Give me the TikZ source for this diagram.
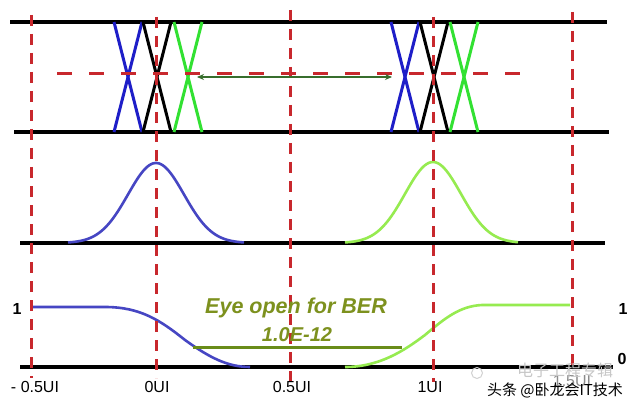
\documentclass[tikz,border=0pt]{standalone}
\usepackage{fontspec}
\setmainfont{Liberation Sans}
\newfontfamily\cjk{Noto Sans CJK SC}
\usetikzlibrary{arrows.meta}
\definecolor{rd}{RGB}{200,40,45}
\definecolor{xblue}{RGB}{30,30,200}
\definecolor{xgreen}{RGB}{50,225,50}
\definecolor{cblue}{RGB}{70,70,195}
\definecolor{cgreen}{RGB}{150,235,80}
\definecolor{agreen}{RGB}{55,110,45}
\definecolor{olive}{RGB}{105,140,25}
\definecolor{otext}{RGB}{125,145,30}
\tikzset{
  rail/.style={line width=3.4pt,black},
  vdash/.style={line width=3pt,rd,dash pattern=on 11pt off 8pt},
  hdash/.style={line width=3pt,rd,dash pattern=on 15pt off 17pt},
  xline/.style={line width=3pt},
  curve/.style={line width=2.6pt},
  lbl/.style={font=\fontsize{16}{18}\selectfont,inner sep=0pt},
  lvl/.style={font=\fontsize{16}{18}\selectfont\bfseries,inner sep=0pt},
}
\begin{document}
\begin{tikzpicture}[x=1pt,y=-1pt]
\useasboundingbox[fill=white] (0,0) rectangle (640,409);
% rails
\draw[rail] (10,22) -- (607,22);
\draw[rail] (14,132) -- (609,132);
\draw[rail] (20,243) -- (605,243);
\draw[rail] (20,367) -- (613,367);
% crossings
\foreach \c/\col in {127/xblue,156/black,187/xgreen,404/xblue,433/black,463/xgreen}{
  \draw[xline,\col] (\c-13,22) -- (\c+15,132);
  \draw[xline,\col] (\c+15,22) -- (\c-13,132);
}
% gaussians
\draw[curve,cblue,domain=68:244,samples=90] plot (\x,{243-80*exp(-0.5*((\x-156)/28)^2)});
\draw[curve,cgreen,domain=345:518,samples=90] plot (\x,{243-81*exp(-0.5*((\x-433)/28)^2)});
% transitions
\draw[curve,cblue] (31,307) -- (105,307) .. controls (140,307) and (160,320) .. (185,340) .. controls (210,358) and (228,367) .. (250,367);
\draw[curve,cgreen] (345,367) .. controls (380,367) and (405,350) .. (425,335) .. controls (445,318) and (460,306) .. (482,305) -- (570,305);
% red dashed
\foreach \x/\a/\b in {31/15/378,156/17/378,290/10/382,433/17/382,572/12/372}{
  \draw[vdash] (\x,\a) -- (\x,\b);
}
\draw[hdash] (57,74) -- (530,74);
% eye arrow
\coordinate (al) at (197,77);
\coordinate (ar) at (392,77);
\draw[agreen,line width=1.6pt,{Stealth[length=7pt,width=6pt]}-{Stealth[length=7pt,width=6pt]}] (al) -- (ar);
% eye open bar
\coordinate (bl) at (193,347);
\coordinate (br) at (402,347);
\draw[olive,line width=3pt] (bl) -- (br);
\node[otext,font=\fontsize{21.5}{24}\selectfont\bfseries\itshape,inner sep=0pt] (t1) at (296,308) {Eye open for BER};
\node[otext,font=\fontsize{20}{22}\selectfont\bfseries\itshape,inner sep=0pt] (t2) at (297,335) {1.0E-12};
% level labels
\node[lvl] (l1) at (17,309) {1};
\node[lvl] (r1) at (623,309) {1};
\node[lvl] (r0) at (622,359) {0};
% axis labels
\node[lbl] (a1) at (35,387) {- 0.5UI};
\node[lbl] (a2) at (157,387) {0UI};
\node[lbl] (a3) at (292,387) {0.5UI};
\node[lbl] (a4) at (430,387) {1UI};
\node[lbl,black!45] (a5) at (572,381) {1.5UI};
% watermarks
\node[inner sep=0pt,black!22,font=\cjk\fontsize{16}{18}\selectfont] (w1) at (565,370) {电子工程专辑};
\node[inner sep=0pt,black!18,draw,circle,line width=1pt,minimum size=11pt] (w3) at (477,373) {};
\node[inner sep=0pt,black,font=\cjk\fontsize{15}{17}\selectfont] (w2) at (555,390) {头条 @卧龙会IT技术};
\end{tikzpicture}
\end{document}
